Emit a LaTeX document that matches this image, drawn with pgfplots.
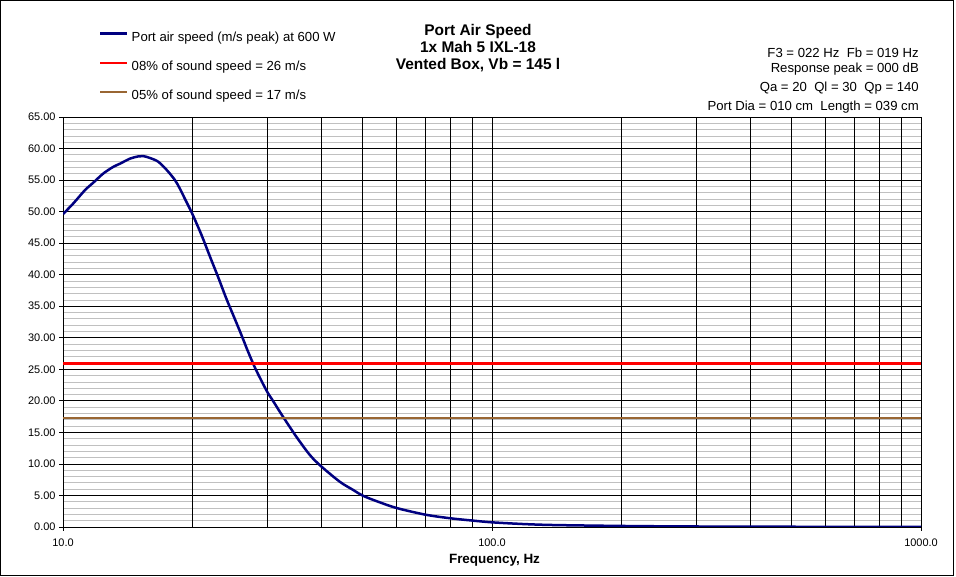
\documentclass[border=0pt]{standalone}
\usepackage{fontspec}
\setmainfont{Liberation Sans}
\usepackage{pgfplots}
\pgfplotsset{compat=1.18}
\definecolor{navyblue}{RGB}{0,0,128}
\definecolor{brownline}{RGB}{153,102,51}
\definecolor{minorgray}{RGB}{192,192,192}
\begin{document}
\begin{tikzpicture}[x=1bp,y=1bp]
\useasboundingbox (-63,-50) rectangle (893,527);
\draw[black, line width=1bp] (-62.5,-48.5) rectangle (890.5,526.5);
\begin{axis}[
  at={(0,0)}, anchor=south west,
  scale only axis, width=858bp, height=410bp,
  xmode=log, xmin=10, xmax=1000, ymin=0, ymax=65,
  xtick={10,100,1000}, xticklabels={10.0,100.0,1000.0},
  minor xtick={},
  extra x ticks={20,30,40,50,60,70,80,90,100,200,300,400,500,600,700,800,900},
  extra x tick labels={},
  extra x tick style={major tick length=0pt},
  ytick={0,5,...,65},
  minor y tick num=4,
  xmajorgrids=true, ymajorgrids=true, yminorgrids=true, xminorgrids=false,
  major grid style={black, line width=0.8bp},
  minor grid style={minorgray, line width=0.8bp},
  axis line style={black, line width=0.8bp},
  tick style={black, line width=0.8bp},
  tick align=outside, major tick length=4bp, minor tick length=0pt,
  xtick pos=bottom, ytick pos=left,
  /pgf/number format/assume math mode=true,
  yticklabel style={/pgf/number format/.cd, fixed, fixed zerofill, precision=2},
  xticklabel style={yshift=-4.5bp},
  ticklabel style={font=\fontsize{11}{13}\selectfont},
  legend style={draw=none, fill=none, at={(axis description cs:0.0420,1.2101)}, anchor=north west,
    font=\fontsize{13.2}{15}\selectfont, inner sep=0pt, row sep=17.3bp, column sep=3bp,
    nodes={inner sep=0pt, text height=10bp, text depth=2bp}},
  legend cell align=left,
  legend image code/.code={\draw[#1] (0bp,3.5bp) -- (27bp,3.5bp);},
]
\addplot[navyblue, line width=2.5bp, smooth, tension=0.5] table {
10 49.6
10.57 51.3
11.25 53.4
11.77 54.6
12.42 56.05
13.1 57.1
13.58 57.6
14.33 58.4
14.98 58.75
15.39 58.8
15.95 58.5
16.68 57.9
17.45 56.6
18.24 55.0
18.74 53.6
19.25 52.0
20 49.7
21 46.4
22 42.9
23 39.6
24 36.3
25 33.4
26 30.6
27 27.8
28 25.3
29 23.2
30 21.3
31 19.8
32 18.3
33 16.9
35 14.3
37.64 11.4
40 9.6
44.23 7.15
47.5 5.86
50 4.96
54.3 4.0
60 3.0
70 1.95
80 1.38
90 1.02
100 0.74
120 0.45
142 0.3
210 0.15
300 0.08
500 0.04
1000 0.02
};
\addlegendentry{Port air speed (m/s peak) at 600 W}
\addplot[red, line width=2.5bp] coordinates {(10,25.95) (1000,25.95)};
\addlegendentry{08\% of sound speed = 26 m/s}
\addplot[brownline, line width=2.2bp] coordinates {(10,17.3) (1000,17.3)};
\addlegendentry{05\% of sound speed = 17 m/s}
\end{axis}
\begin{scope}[every node/.style={inner sep=0pt}]
\node[anchor=base, font=\bfseries\fontsize{15.5}{18}\selectfont] at (415,491) {Port Air Speed};
\node[anchor=base, font=\bfseries\fontsize{15.5}{18}\selectfont] at (415,474.3) {1x Mah 5 IXL-18};
\node[anchor=base, font=\bfseries\fontsize{15.5}{18}\selectfont] at (415,457) {Vented Box, Vb = 145 l};
\node[anchor=base east, font=\fontsize{13.2}{15}\selectfont] at (856,469) {F3 = 022 Hz\ \ Fb = 019 Hz};
\node[anchor=base east, font=\fontsize{13.2}{15}\selectfont] at (856,454.3) {Response peak = 000 dB};
\node[anchor=base east, font=\fontsize{13.2}{15}\selectfont] at (856,435.3) {Qa = 20\ \ Ql = 30\ \ Qp = 140};
\node[anchor=base east, font=\fontsize{13.2}{15}\selectfont] at (856,416) {Port Dia = 010 cm\ \ Length = 039 cm};
\node[anchor=base, font=\bfseries\fontsize{13.5}{16}\selectfont] at (431.5,-37) {Frequency, Hz};
\end{scope}
\end{tikzpicture}
\end{document}
